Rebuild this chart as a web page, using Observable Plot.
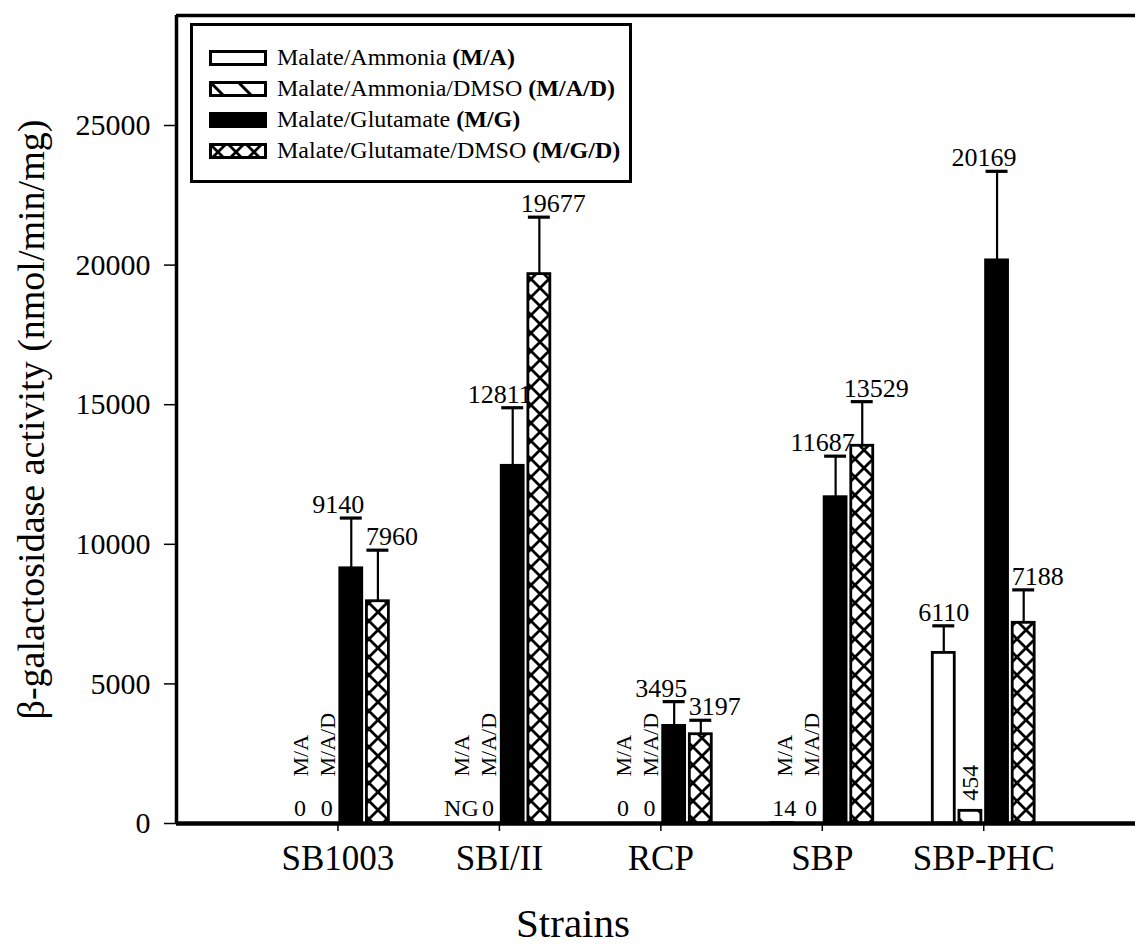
<!DOCTYPE html>
<html>
<head>
<meta charset="utf-8">
<script src="https://cdn.jsdelivr.net/npm/d3@7"></script>
<script src="https://cdn.jsdelivr.net/npm/@observablehq/plot@0.6"></script>
<style>
  body { margin: 0; background: #fff; font-family: "Liberation Serif", "Times New Roman", serif; color: #000; }
  #wrap { position: relative; width: 1135px; height: 946px; overflow: hidden; background: #fff; }
  #legend { position: absolute; left: 190px; top: 23px; width: 436px; height: 154px; border: 3px solid #000; background: #fff; }
  .row { position: absolute; left: 16px; height: 29px; display: flex; align-items: center; font-size: 24px; white-space: nowrap; }
  .row svg { margin-right: 10px; display: block; }
  #xtitle { position: absolute; left: 0; top: 901px; width: 1146px; text-align: center; font-size: 41px; height: 44px; line-height: 44px; }
</style>
</head>
<body>
<svg width="0" height="0" style="position:absolute">
  <defs>
    <pattern id="hatchMAD" patternUnits="userSpaceOnUse" width="28" height="28">
      <rect width="28" height="28" fill="white"/>
      <path d="M-7,-7L35,35M-7,21L7,35M21,-7L35,7" stroke="black" stroke-width="3"/>
    </pattern>
    <pattern id="crossMGD" patternUnits="userSpaceOnUse" width="18" height="18">
      <rect width="18" height="18" fill="white"/>
      <path d="M-2,-2L20,20M20,-2L-2,20" stroke="black" stroke-width="2.8"/>
    </pattern>
  </defs>
</svg>
<div id="wrap">
  <div id="chart"></div>
  <div id="xtitle"></div>
  <div id="legend"></div>
</div>
<script>
// ---- data ----
const strains = ["SB1003", "SBI/II", "RCP", "SBP", "SBP-PHC"];
const seriesCodes = ["M/A", "M/A/D", "M/G", "M/G/D"];
const seriesNames = ["Malate/Ammonia", "Malate/Ammonia/DMSO", "Malate/Glutamate", "Malate/Glutamate/DMSO"];
const valuesMA  = [0, null, 0, 14, 6110];   // null = no growth (NG)
const valuesMAD = [0, 0, 0, 0, 454];
const valuesMG  = [9140, 12811, 3495, 11687, 20169];
const valuesMGD = [7960, 19677, 3197, 13529, 7188];
const errorMA  = [0, 0, 0, 0, 970];
const errorMAD = [0, 0, 0, 0, 0];
const errorMG  = [1800, 2080, 870, 1470, 3190];
const errorMGD = [1830, 2040, 500, 1580, 1180];
const noGrowthLabel = "NG";
const yTicks = [0, 5000, 10000, 15000, 20000, 25000];
const yTitle = "β-galactosidase activity (nmol/min/mg)";
const xTitle = "Strains";

// ---- build table ----
const allValues = [valuesMA, valuesMAD, valuesMG, valuesMGD];
const allErrors = [errorMA, errorMAD, errorMG, errorMGD];
const fills = ["white", "url(#hatchMAD)", "black", "url(#crossMGD)"];
const labelShift = [0, 0, -13, 14]; // per-series horizontal nudge of value labels (px)
const rows = strains.flatMap((s, i) => allValues.map((vals, k) => ({strain: s, i, k, v: vals[i], e: allErrors[k][i]})));

const SLOT = 0.165, HALF = 0.068;
const cx = d => d.i + 1 + (d.k - 1.5) * SLOT;
const font = "Liberation Serif, Times New Roman, serif";

const barMarks = [0, 1, 2, 3].map(k => Plot.rect(rows.filter(d => d.k === k && d.v != null), {
  x1: d => cx(d) - HALF, x2: d => cx(d) + HALF, y1: 0, y2: d => d.v,
  fill: fills[k], stroke: "black", strokeWidth: 2.8
}));
const withErr = rows.filter(d => d.v != null && d.e > 0);
const big = rows.filter(d => d.v != null && d.v >= 1000);
const small = rows.filter(d => d.v != null && d.v > 50 && d.v < 1000);
const zero = rows.filter(d => d.v == null || d.v <= 50);

const bigLabelMarks = [0, 1, 2, 3].map(k => Plot.text(big.filter(d => d.k === k), {
  x: cx, y: d => d.v + d.e, text: d => String(d.v), lineAnchor: "bottom", dy: -5, dx: labelShift[k], fontSize: 26
}));

const chart = Plot.plot({
  width: 1135,
  height: 890,
  marginLeft: 176,
  marginRight: 0,
  marginTop: 15,
  marginBottom: 67,
  style: {fontFamily: font, color: "black", background: "white"},
  x: {type: "linear", domain: [0, 5.94]},
  y: {domain: [0, 28940]},
  marks: [
    ...barMarks,
    Plot.ruleX(withErr, {x: cx, y1: d => d.v, y2: d => d.v + d.e, strokeWidth: 2.2}),
    Plot.ruleY(withErr, {y: d => d.v + d.e, x1: d => cx(d) - HALF, x2: d => cx(d) + HALF, strokeWidth: 3.2}),
    ...bigLabelMarks,
    Plot.text(small, {x: cx, y: d => d.v, text: d => String(d.v), rotate: -90, textAnchor: "start", lineAnchor: "middle", dy: -10, fontSize: 24}),
    Plot.text(zero, {x: cx, y: 0, text: d => d.v == null ? noGrowthLabel : String(d.v), lineAnchor: "bottom", dy: -8, dx: 2, fontSize: 24}),
    Plot.text(zero, {x: cx, y: 0, text: d => seriesCodes[d.k], rotate: -90, textAnchor: "start", lineAnchor: "middle", dy: -47, dx: 3, fontSize: 22}),
    Plot.ruleX([0], {strokeWidth: 3.5}),
    Plot.ruleY([28940], {strokeWidth: 3.5}),
    Plot.ruleY([0], {strokeWidth: 4.5}),
    Plot.axisY({ticks: yTicks, tickSize: 12, tickPadding: 14, tickFormat: d => String(d), fontSize: 30, label: null, strokeWidth: 1.5}),
    Plot.axisX({ticks: strains.map((s, i) => i + 1), tickFormat: d => strains[d - 1], tickSize: 8, tickPadding: 14, fontSize: 35, label: null, strokeWidth: 1.5}),
    Plot.text([yTitle], {text: d => d, frameAnchor: "left", rotate: -90, dx: -145, fontSize: 38, textAnchor: "middle", lineAnchor: "middle"})
  ]
});
document.getElementById("chart").appendChild(chart);
document.getElementById("xtitle").textContent = xTitle;

// ---- legend ----
const swatches = [
  '<rect x="1.5" y="1.5" width="55" height="13" fill="white" stroke="black" stroke-width="3"/>',
  '<rect x="1.5" y="1.5" width="55" height="13" fill="url(#hatchMAD)" stroke="black" stroke-width="3"/>',
  '<rect x="0" y="0" width="58" height="16" fill="black"/>',
  '<rect x="1.5" y="1.5" width="55" height="13" fill="url(#crossMGD)" stroke="black" stroke-width="3"/>'
];
const legend = document.getElementById("legend");
seriesNames.forEach((name, k) => {
  const row = document.createElement("div");
  row.className = "row";
  row.style.top = (17 + k * 31) + "px";
  row.innerHTML = `<svg width="58" height="16">${swatches[k]}</svg><span>${name} <b>(${seriesCodes[k]})</b></span>`;
  legend.appendChild(row);
});
</script>
</body>
</html>
